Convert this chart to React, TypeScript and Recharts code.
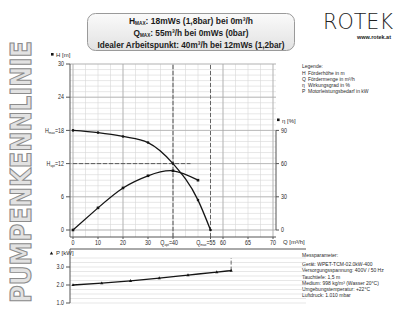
import React from 'react';
import { ComposedChart, Line, XAxis, YAxis, CartesianGrid, ReferenceLine } from 'recharts';

// ---- data ----
const flowQ = [0, 10, 20, 30, 40, 50, 55];
const headH = [18, 17.6, 16.9, 15.8, 12, 5.4, 0];
const efficiency: (number | null)[] = [0, 20, 38, 49, 53.5, 45, null];
const powerP = [2.0, 2.1, 2.23, 2.38, 2.55, 2.72, 2.8];

const xTicks = [0, 10, 20, 30, 40, 55, 60, 70, 80];
const xTickLabels = ['0', '10', '20', '30', 'Q_opt=40', 'Q_max=55', '60', '65', '70'];
const hTicks = [0, 6, 12, 18, 24, 30];
const hTickLabels = ['0', '6', 'H_opt=12', 'H_max=18', '24', '30'];
const etaTicks = [0, 30, 60, 90];
const pTicks = [1, 2, 3];
const pTickLabels = ['1.0', '2.0', '3.0'];

const qGridMinor = [0, 5, 10, 15, 20, 25, 30, 35, 40, 45, 50, 55, 60, 65, 70, 75, 80];
const qGridMajor = [0, 20, 40, 60, 80];
const hGridMinor = [0, 1, 2, 3, 4, 5, 6, 7, 8, 9, 10, 11, 12, 13, 14, 15, 16, 17, 18, 19, 20, 21, 22, 23, 24, 25, 26, 27, 28, 29, 30];
const hGridMajor = [0, 6, 12, 18, 24, 30];
const pGridMinor = [1, 1.25, 1.5, 1.75, 2, 2.25, 2.5, 2.75, 3, 3.25, 3.5];

const titleLines = [
  ['H', 'MAX', ': 18mWs (1,8bar) bei 0m³/h'],
  ['Q', 'MAX', ': 55m³/h bei 0mWs (0bar)'],
  ['', '', 'Idealer Arbeitspunkt: 40m³/h bei 12mWs (1,2bar)'],
];
const titleWidths = [124, 115, 187];
const legendTitle = 'Legende:';
const legendItems = [
  ['H', 'Förderhöhe in m'],
  ['Q', 'Fördermenge in m³/h'],
  ['η', 'Wirkungsgrad in %'],
  ['P', 'Motorleistungsbedarf in kW'],
];
const measureLines = [
  'Messparameter:',
  'Gerät: WPET-TCM-02.0kW-400',
  'Versorgungsspannung: 400V / 50 Hz',
  'Tauchtiefe: 1,5 m',
  'Medium: 998 kg/m³ (Wasser 20°C)',
  'Umgebungstemperatur: +22°C',
  'Luftdruck: 1.010 mbar',
];

const mainData = flowQ.map((q, i) => ({ q, h: headH[i], eta: efficiency[i] }));
const powerData = flowQ.map((q, i) => ({ q, p: powerP[i] }));

const FONT = "'Liberation Sans', Arial, sans-serif";
const TXT = '#2a2a2a';
const AX = '#555';
const MINOR = '#d6d6d6';
const MAJOR = '#a8a8a8';
const CURVE = '#151515';

function SubLabel(props: any) {
  const { x, y, label, anchor, dy, subShift } = props;
  const m = label.match(/^(\w)_(\w+)(=.*)$/);
  const a = m && subShift != null ? 'end' : anchor;
  const xx = m && subShift != null ? x + subShift : x;
  return (
    <g transform={`translate(${xx},${y}) scale(0.82,1)`}>
      <text x={0} y={0} dy={dy} textAnchor={a} fontSize={6.5} fontFamily={FONT} fill={TXT}>
        {m ? (
          <>
            <tspan>{m[1]}</tspan>
            <tspan fontSize={4} dy={1.5}>{m[2]}</tspan>
            <tspan dy={-1.5}>{m[3]}</tspan>
          </>
        ) : (
          label
        )}
      </text>
    </g>
  );
}

const XTick = (props: any) => {
  const { x, y, payload } = props;
  const i = xTicks.indexOf(payload.value);
  return <SubLabel x={x} y={y} dy="0.71em" anchor="middle" subShift={5} label={i >= 0 ? xTickLabels[i] : String(payload.value)} />;
};
const HTick = (props: any) => {
  const { x, y, payload } = props;
  const i = hTicks.indexOf(payload.value);
  return <SubLabel x={x} y={y} dy="0.35em" anchor="end" label={i >= 0 ? hTickLabels[i] : String(payload.value)} />;
};
const EtaTick = (props: any) => {
  const { x, y, payload } = props;
  return <SubLabel x={x} y={y} dy="0.35em" anchor="start" label={String(payload.value)} />;
};
const PTick = (props: any) => {
  const { x, y, payload } = props;
  const i = pTicks.indexOf(payload.value);
  return <SubLabel x={x} y={y} dy="0.35em" anchor="end" label={i >= 0 ? pTickLabels[i] : String(payload.value)} />;
};

const SquareDot = (props: any) => {
  const { cx, cy, index } = props;
  if (cx == null || cy == null || Number.isNaN(cy)) return <g key={`s${index}`} />;
  return <rect key={`s${index}`} x={cx - 1.3} y={cy - 1.3} width={2.6} height={2.6} fill={CURVE} />;
};
const TriDot = (props: any) => {
  const { cx, cy, index } = props;
  if (cx == null || cy == null) return <g key={`t${index}`} />;
  return <path key={`t${index}`} d={`M${cx},${cy - 1.8}L${cx + 1.6},${cy + 1.1}L${cx - 1.6},${cy + 1.1}Z`} fill={CURVE} />;
};

export default function App() {
  return (
    <div style={{ position: 'absolute', left: 0, top: 0, width: 400, height: 320, background: '#fff', overflow: 'hidden' }}>
      {/* decorations */}
      <svg width={400} height={320} style={{ position: 'absolute', left: 0, top: 0 }}>
        <defs>
          <linearGradient id="boxg" x1="0" y1="0" x2="0" y2="1">
            <stop offset="0" stopColor="#fafafa" />
            <stop offset="1" stopColor="#e2e2e2" />
          </linearGradient>
        </defs>
        <text
          x={31}
          y={172}
          transform="rotate(-90, 31, 172)"
          textAnchor="middle"
          fontFamily="'DejaVu Sans', sans-serif"
          fontWeight="bold"
          fontSize={28}
          textLength={262}
          lengthAdjust="spacingAndGlyphs"
          fill="#e2e2e2"
          stroke="#8c8c8c"
          strokeWidth={1.1}
        >
          PUMPENKENNLINIE
        </text>
        {/* title box */}
        <rect x={87.5} y={13.5} width={207} height={37} rx={8} fill="url(#boxg)" stroke="#9a9a9a" />
        <g fontFamily={FONT} fontWeight="bold" fontSize={9} fill="#1b1b1b">
          {titleLines.map((l, i) => (
            <text key={i} x={191} y={24 + i * 11.8} textAnchor="middle" textLength={titleWidths[i]} lengthAdjust="spacingAndGlyphs">
              {l[0] ? <tspan>{l[0]}</tspan> : null}
              {l[1] ? <tspan fontSize={5} dy={0.8}>{l[1]}</tspan> : null}
              <tspan dy={l[1] ? -0.8 : 0}>{l[2]}</tspan>
            </text>
          ))}
        </g>
        {/* logo */}
        <text x={323} y={29} fontFamily="'DejaVu Sans', sans-serif" fontWeight={200} fontSize={21} textLength={70} lengthAdjust="spacingAndGlyphs" fill="#222">
          ROTEK
        </text>
        <text x={391} y={39} textAnchor="end" fontFamily={FONT} fontWeight="bold" fontSize={5.5} fill="#222">
          www.rotek.at
        </text>
        {/* axis titles */}
        <g fontFamily={FONT} fontSize={6} fill={TXT}>
          <rect x={51} y={53} width={2.6} height={2.6} fill={CURVE} />
          <text x={56} y={57}>H [m]</text>
          <rect x={277} y={118.5} width={2.6} height={2.6} fill={CURVE} />
          <text x={282} y={122.5}>η [%]</text>
          <path d="M51.5,251.5L53.2,254.5L49.8,254.5Z" fill={CURVE} />
          <text x={56} y={255}>P [kW]</text>
          <text x={283} y={244}>Q [m³/h]</text>
        </g>
        {/* legend */}
        <g fontFamily={FONT} fontSize={5} fill={TXT}>
          <text x={302} y={67.5}>{legendTitle}</text>
          {legendItems.map((it, i) => (
            <g key={it[0]}>
              <text x={302} y={75 + i * 6}>{it[0]}</text>
              <text x={308} y={75 + i * 6}>{it[1]}</text>
            </g>
          ))}
        </g>
        <g fontFamily={FONT} fontSize={5} fill={TXT}>
          {measureLines.map((t, i) => (
            <text key={t} x={302} y={i === 0 ? 257 : 260 + i * 6.2}>
              {t}
            </text>
          ))}
        </g>
      </svg>

      {/* main chart */}
      <div style={{ position: 'absolute', left: 0, top: 0 }}>
        <ComposedChart width={400} height={251} data={mainData} margin={{ top: 64, right: 94, bottom: 0, left: 40 }}>
          <CartesianGrid stroke={MINOR} strokeWidth={0.6} verticalValues={qGridMinor} horizontalValues={hGridMinor} yAxisId="h" />
          <CartesianGrid stroke={MAJOR} strokeWidth={0.7} verticalValues={qGridMajor} horizontalValues={hGridMajor} yAxisId="h" />
          <XAxis
            dataKey="q"
            type="number"
            domain={[0, 80]}
            ticks={xTicks}
            padding={{ left: 3, right: 3 }}
            height={14}
            stroke={AX}
            tickSize={2}
            tickMargin={1}
            tick={<XTick />}
            interval={0}
          />
          <YAxis
            yAxisId="h"
            type="number"
            domain={[0, 30]}
            ticks={hTicks}
            padding={{ bottom: 7 }}
            width={30}
            stroke={AX}
            tickSize={4}
            tickMargin={2}
            tick={<HTick />}
            interval={0}
          />
          <YAxis
            yAxisId="eta"
            orientation="right"
            type="number"
            domain={[0, 150]}
            ticks={etaTicks}
            padding={{ bottom: 7 }}
            width={30}
            stroke={AX}
            axisLine={false}
            tickSize={3}
            tickMargin={2}
            tick={<EtaTick />}
            interval={0}
          />
          <ReferenceLine yAxisId="h" x={40} stroke="#444" strokeWidth={0.8} strokeDasharray="4 2" />
          <ReferenceLine yAxisId="h" x={55} stroke="#444" strokeWidth={0.8} strokeDasharray="4 2" />
          <ReferenceLine yAxisId="h" segment={[{ x: 0, y: 12 }, { x: 47, y: 12 }]} stroke="#444" strokeWidth={0.8} strokeDasharray="4 2" />
          <ReferenceLine yAxisId="eta" segment={[{ x: 81.2, y: 0 }, { x: 81.2, y: 90 }]} stroke={AX} ifOverflow="visible" />
          <Line yAxisId="h" dataKey="h" type="monotone" stroke={CURVE} strokeWidth={1.3} dot={{ r: 1.3, fill: CURVE, stroke: 'none' }} isAnimationActive={false} />
          <Line yAxisId="eta" dataKey="eta" type="natural" stroke={CURVE} strokeWidth={1.3} dot={SquareDot} isAnimationActive={false} />
        </ComposedChart>
      </div>

      {/* power chart */}
      <div style={{ position: 'absolute', left: 0, top: 236 }}>
        <ComposedChart width={400} height={70} data={powerData} margin={{ top: 4, right: 94, bottom: 3, left: 40 }}>
          <CartesianGrid stroke={MINOR} strokeWidth={0.6} verticalValues={qGridMinor} horizontalValues={pGridMinor} />
          <CartesianGrid stroke={MAJOR} strokeWidth={0.7} verticalValues={qGridMajor} horizontal={false} />
          <XAxis
            dataKey="q"
            type="number"
            orientation="top"
            domain={[0, 80]}
            ticks={qGridMajor}
            padding={{ left: 3, right: 3 }}
            height={9}
            stroke={AX}
            tickSize={3}
            tick={false}
          />
          <YAxis
            type="number"
            domain={[1, 3.5]}
            ticks={pTicks}
            padding={{ top: 9 }}
            width={30}
            stroke={AX}
            tickSize={4}
            tickMargin={2}
            tick={<PTick />}
            interval={0}
          />
          <ReferenceLine segment={[{ x: 55, y: 2.8 }, { x: 55, y: 3.5 }]} stroke="#444" strokeWidth={0.8} strokeDasharray="4 2" />
          <Line dataKey="p" type="monotone" stroke={CURVE} strokeWidth={1.3} dot={TriDot} isAnimationActive={false} />
        </ComposedChart>
      </div>
    </div>
  );
}
